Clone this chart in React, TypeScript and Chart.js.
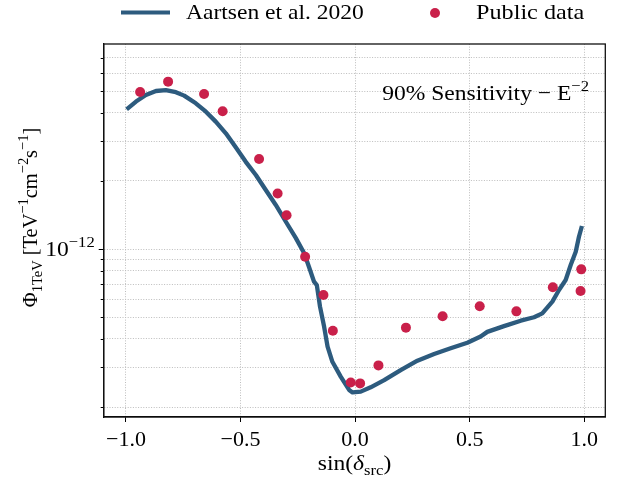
import React, { useEffect, useRef } from 'react';
import { Chart, registerables } from 'chart.js';

Chart.register(...registerables);

const FONT = '"Liberation Serif", "Times New Roman", serif';
const LINE_COLOR = '#2d5b7e';
const DOT_COLOR = '#c9204a';
const GRID_COLOR = '#bdbdbd';
const HS = 1.07;

// Aartsen et al. 2020 sensitivity curve
const lineX = [-0.997, -0.956, -0.913, -0.869, -0.826, -0.782, -0.746, -0.695, -0.651, -0.608, -0.564, -0.52, -0.477, -0.433, -0.389, -0.346, -0.302, -0.259, -0.222, -0.201, -0.179, -0.167, -0.153, -0.135, -0.12, -0.099, -0.062, -0.026, -0.011, 0.025, 0.068, 0.127, 0.199, 0.272, 0.345, 0.417, 0.49, 0.548, 0.577, 0.65, 0.723, 0.781, 0.817, 0.861, 0.89, 0.919, 0.941, 0.963, 0.977, 0.99];
const lineY = [4.15e-12, 4.49e-12, 4.8e-12, 5.0e-12, 5.04e-12, 4.94e-12, 4.77e-12, 4.41e-12, 4.05e-12, 3.66e-12, 3.25e-12, 2.81e-12, 2.43e-12, 2.125e-12, 1.82e-12, 1.566e-12, 1.32e-12, 1.12e-12, 0.957e-12, 0.832e-12, 0.717e-12, 0.693e-12, 0.556e-12, 0.453e-12, 0.37e-12, 0.317e-12, 0.272e-12, 0.238e-12, 0.232e-12, 0.234e-12, 0.2445e-12, 0.263e-12, 0.2915e-12, 0.3205e-12, 0.343e-12, 0.364e-12, 0.385e-12, 0.41e-12, 0.43e-12, 0.456e-12, 0.482e-12, 0.499e-12, 0.519e-12, 0.585e-12, 0.659e-12, 0.729e-12, 0.85e-12, 0.973e-12, 1.133e-12, 1.264e-12];

// Public data points
const dataX = [-0.938, -0.816, -0.659, -0.578, -0.419, -0.338, -0.299, -0.218, -0.138, -0.097, -0.019, 0.022, 0.102, 0.222, 0.382, 0.544, 0.704, 0.863, 0.987, 0.984];
const dataY = [4.95e-12, 5.5e-12, 4.85e-12, 4.07e-12, 2.5e-12, 1.76e-12, 1.41e-12, 0.924e-12, 0.626e-12, 0.435e-12, 0.257e-12, 0.2545e-12, 0.3057e-12, 0.449e-12, 0.504e-12, 0.558e-12, 0.53e-12, 0.677e-12, 0.813e-12, 0.652e-12];

const xTickValues = [-1, -0.5, 0, 0.5, 1];
const yGridValues = [2e-13, 3e-13, 4e-13, 5e-13, 6e-13, 7e-13, 8e-13, 9e-13, 1e-12, 2e-12, 3e-12, 4e-12, 5e-12, 6e-12, 7e-12];
const yMajorValue = 1e-12;
const xRange = [-1.097, 1.092];
const yRange = [1.807e-13, 8.07e-12];
const legendLabels = ['Aartsen et al. 2020', 'Public data'];

type Part = { t: string; s: number; dy?: number; italic?: boolean };

function fontOf(p: Part) {
  return `${p.italic ? 'italic ' : ''}${p.s}px ${FONT}`;
}

function drawRich(ctx: CanvasRenderingContext2D, parts: Part[], x: number, y: number, align: 'left' | 'center' | 'right', hs: number = HS) {
  let w = 0;
  const widths = parts.map((p) => {
    ctx.font = fontOf(p);
    const m = ctx.measureText(p.t).width;
    w += m;
    return m;
  });
  const sw = w * hs;
  const sx = align === 'left' ? x : align === 'center' ? x - sw / 2 : x - sw;
  ctx.save();
  ctx.translate(sx, y);
  ctx.scale(hs, 1);
  ctx.textAlign = 'left';
  ctx.textBaseline = 'alphabetic';
  ctx.fillStyle = '#000';
  let cx = 0;
  parts.forEach((p, i) => {
    ctx.font = fontOf(p);
    ctx.fillText(p.t, cx, p.dy || 0);
    cx += widths[i];
  });
  ctx.restore();
}

const overlay = {
  id: 'overlay',
  afterDraw(chart: any) {
    const ctx: CanvasRenderingContext2D = chart.ctx;
    const a = chart.chartArea;
    const ys = chart.scales.y;
    ctx.save();
    // y tick marks
    ctx.strokeStyle = '#000';
    ctx.lineWidth = 1;
    yGridValues.forEach((v) => {
      const py = Math.round(ys.getPixelForValue(v)) + 0.5;
      const len = v === yMajorValue ? 5 : 3;
      ctx.beginPath();
      ctx.moveTo(a.left - len, py);
      ctx.lineTo(a.left, py);
      ctx.stroke();
    });
    // frame
    ctx.strokeStyle = '#111';
    ctx.lineWidth = 1.3;
    ctx.strokeRect(a.left, a.top, a.right - a.left, a.bottom - a.top);

    // y tick label 10^-12
    const py = ys.getPixelForValue(yMajorValue);
    drawRich(ctx, [{ t: '10', s: 22 }, { t: '−12', s: 15.5, dy: -9 }], a.left - 9, py + 7, 'right');

    // legend
    ctx.strokeStyle = LINE_COLOR;
    ctx.lineWidth = 4;
    ctx.beginPath();
    ctx.moveTo(121, 12.5);
    ctx.lineTo(170, 12.5);
    ctx.stroke();
    drawRich(ctx, [{ t: legendLabels[0], s: 22 }], 186, 19, 'left');
    ctx.fillStyle = DOT_COLOR;
    ctx.beginPath();
    ctx.arc(435, 13, 5, 0, Math.PI * 2);
    ctx.fill();
    drawRich(ctx, [{ t: legendLabels[1], s: 22 }], 476, 19, 'left', 1.1);

    // annotation
    drawRich(ctx, [{ t: '90% Sensitivity − E', s: 22 }, { t: '−2', s: 15.5, dy: -9 }], 589, 100, 'right');

    // x title
    drawRich(
      ctx,
      [
        { t: 'sin(', s: 22 },
        { t: 'δ', s: 22, italic: true },
        { t: 'src', s: 15.5, dy: 4.5 },
        { t: ')', s: 22 },
      ],
      (a.left + a.right) / 2,
      470,
      'center'
    );

    // y title
    ctx.save();
    ctx.translate(37, 217.5);
    ctx.rotate(-Math.PI / 2);
    drawRich(
      ctx,
      [
        { t: 'Φ', s: 22 },
        { t: '1TeV', s: 15.5, dy: 4.5 },
        { t: ' [TeV', s: 22 },
        { t: '−1', s: 15.5, dy: -9 },
        { t: 'cm', s: 22 },
        { t: '−2', s: 15.5, dy: -9 },
        { t: 's', s: 22 },
        { t: '−1', s: 15.5, dy: -9 },
        { t: ']', s: 22 },
      ],
      0,
      0,
      'center',
      0.93
    );
    ctx.restore();
    ctx.restore();
  },
};

function fmtTick(v: number) {
  return (v < 0 ? '−' : '') + Math.abs(v).toFixed(1);
}

export default function App() {
  const ref = useRef<HTMLCanvasElement | null>(null);
  useEffect(() => {
    if (!ref.current) return;
    const chart = new Chart(ref.current, {
      type: 'scatter',
      data: {
        datasets: [
          {
            label: legendLabels[1],
            data: dataX.map((x, i) => ({ x, y: dataY[i] })),
            pointRadius: 5,
            pointBackgroundColor: DOT_COLOR,
            pointBorderWidth: 0,
            showLine: false,
            order: 0,
          },
          {
            label: legendLabels[0],
            data: lineX.map((x, i) => ({ x, y: lineY[i] })),
            showLine: true,
            borderColor: LINE_COLOR,
            borderWidth: 4.3,
            pointRadius: 0,
            borderJoinStyle: 'round',
            tension: 0,
            order: 1,
          },
        ],
      } as any,
      options: {
        responsive: false,
        animation: false,
        devicePixelRatio: 1,
        events: [],
        layout: { padding: { left: 0, top: 44, right: 16.7, bottom: 0 } },
        plugins: { legend: { display: false }, tooltip: { enabled: false } },
        scales: {
          x: {
            type: 'linear',
            min: xRange[0],
            max: xRange[1],
            afterBuildTicks: (s: any) => {
              s.ticks = xTickValues.map((v) => ({ value: v }));
            },
            afterFit: (s: any) => {
              s.height = 61;
            },
            ticks: {
              callback: (v: any) => fmtTick(Number(v)),
              font: { family: FONT, size: 22 },
              color: '#000',
              padding: 5,
              maxRotation: 0,
              autoSkip: false,
            },
            grid: {
              color: GRID_COLOR,
              lineWidth: 1,
              drawTicks: true,
              tickLength: 5,
              tickColor: '#000',
              tickWidth: 1,
              tickBorderDash: [],
            },
            border: { display: true, color: '#000', width: 1.3, dash: [1, 1.6] },
          },
          y: {
            type: 'logarithmic',
            min: yRange[0],
            max: yRange[1],
            afterBuildTicks: (s: any) => {
              s.ticks = yGridValues.map((v) => ({ value: v, major: v === yMajorValue }));
            },
            afterFit: (s: any) => {
              s.width = 103.7;
            },
            ticks: { display: false },
            grid: { color: GRID_COLOR, lineWidth: 1, drawTicks: false },
            border: { display: true, color: '#000', width: 1.3, dash: [1, 1.6] },
          },
        },
      } as any,
      plugins: [overlay],
    });
    return () => chart.destroy();
  }, []);
  return (
    <div style={{ position: 'absolute', left: 0, top: 0, width: 622, height: 478, background: '#fff' }}>
      <canvas ref={ref} width={622} height={478} />
    </div>
  );
}
